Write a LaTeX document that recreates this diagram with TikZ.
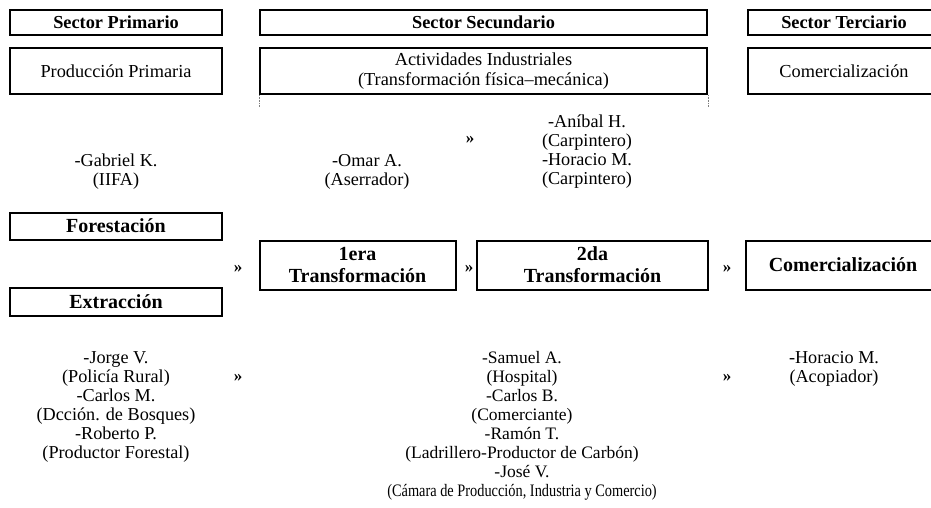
\documentclass[tikz,border=0pt]{standalone}
\usepackage{fontspec}
\usepackage{graphicx}
\setmainfont{Liberation Serif}
\begin{document}
\begin{tikzpicture}[x=1pt,y=-1pt,
  box/.style={draw, line width=2pt, inner sep=0pt},
  hdr/.style={box, minimum height=25pt, font=\fontsize{18.3}{20}\selectfont\bfseries},
  sub/.style={box, minimum height=46pt, align=center, font=\fontsize{18.3}{20}\selectfont},
  stage/.style={box, align=center, font=\fontsize{20}{22}\selectfont\bfseries},
  txt/.style={inner sep=0pt, align=center, anchor=north, font=\fontsize{18.2}{19}\selectfont},
  txtb/.style={txt, font=\fontsize{17.5}{19}\selectfont},
  chev/.style={inner sep=0pt, anchor=base, font=\fontsize{17}{19}\selectfont\bfseries},
  tick/.style={densely dotted, line width=0.6pt, gray}]
\useasboundingbox (0,0) rectangle (931,508);
\clip (0,0) rectangle (931,508);
% sector headers
\node[hdr, minimum width=212pt] (sp) at (116,22.5) {Sector Primario};
\node[hdr, minimum width=447pt] (ss) at (483.5,22.5) {Sector Secundario};
\node[hdr, minimum width=192pt] (st) at (844,22.5) {Sector Terciario};
% sub boxes
\node[sub, minimum width=212pt] (pp) at (116,71) {Producción Primaria};
\node[sub, minimum width=447pt] (ai) at (483.5,71) {Actividades Industriales\\(Transformación física–mecánica)};
\node[sub, minimum width=192pt] (co) at (844,71) {Comercialización};
\draw[tick] (ai.south west) -- ++(0,12);
\draw[tick] (ai.south east) -- ++(0,12);
% upper actors
\node[txt] (gab) at (116,154) {-Gabriel K.\\(IIFA)};
\node[txt] (omar) at (367,154) {-Omar A.\\(Aserrador)};
\node[txt] (anib) at (587,115) {-Aníbal H.\\(Carpintero)\\-Horacio M.\\(Carpintero)};
\node[chev] (c0) at (470,143) {»};
% stages
\node[stage, minimum width=212pt, minimum height=27pt] (fo) at (116,226) {Forestación};
\node[stage, minimum width=212pt, minimum height=28pt] (ex) at (116,302) {Extracción};
\node[stage, minimum width=196pt, minimum height=49pt] (t1) at (357.5,265) {1era\\Transformación};
\node[stage, minimum width=231pt, minimum height=49pt] (t2) at (592.5,265) {2da\\Transformación};
\node[stage, minimum width=194pt, minimum height=49pt] (cm) at (843,265) {Comercialización};
\node[chev] (c1) at (238,272) {»};
\node[chev] (c2) at (469,272) {»};
\node[chev] (c3) at (727,272) {»};
% lower actors
\node[txt] (jor) at (116,351.5) {-Jorge V.\\(Policía Rural)\\-Carlos M.\\(Dcción. de Bosques)\\-Roberto P.\\(Productor Forestal)};
\node[txtb] (sam) at (522,351) {-Samuel A.\\(Hospital)\\-Carlos B.\\(Comerciante)\\-Ramón T.\\(Ladrillero-Productor de Carbón)\\-José V.\\\scalebox{0.82}[1]{(Cámara de Producción, Industria y Comercio)}};
\node[txt] (hor) at (834,351) {-Horacio M.\\(Acopiador)};
\node[chev] (c4) at (238,381) {»};
\node[chev] (c5) at (727,381) {»};
\end{tikzpicture}
\end{document}
